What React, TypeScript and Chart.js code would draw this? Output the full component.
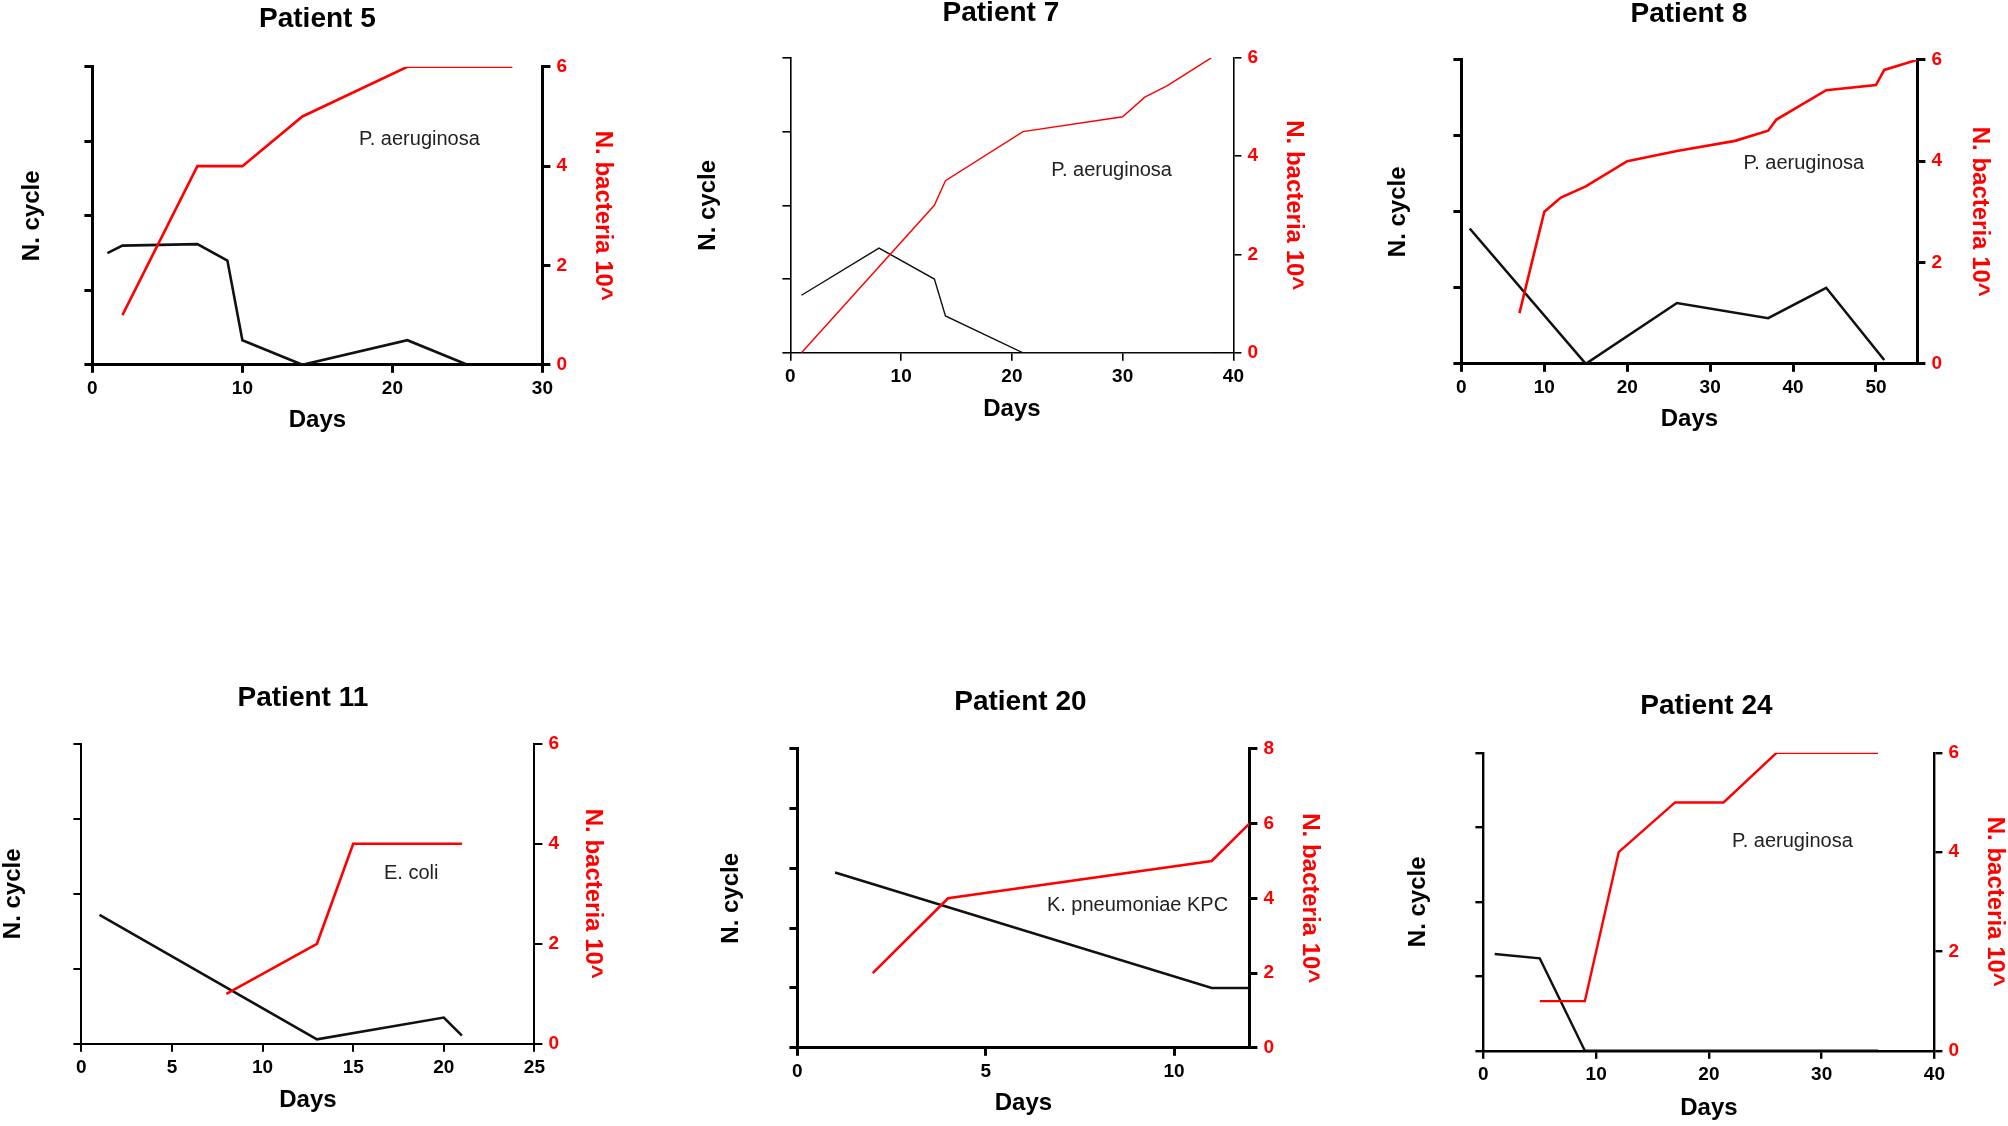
import React, { useRef, useEffect } from 'react';
import { Chart, registerables } from 'chart.js';

Chart.register(...registerables);

const FONT = '"Liberation Sans", Arial, sans-serif';
const RED = '#ff0000';
const INK = '#111111';
const TITLE_SIZE = 28;
const AXIS_TITLE_SIZE = 24;
const TICK_SIZE = 19;

// Patient 5
const p5CycleDays = [1, 2, 7, 9, 10, 14, 21, 25];
const p5Cycles = [1.5, 1.6, 1.62, 1.4, 0.33, 0, 0.33, 0];
const p5BactDays = [2, 7, 10, 14, 21, 28];
const p5Bact = [1, 4, 4, 5, 6, 6];

// Patient 7
const p7CycleDays = [1, 8, 13, 14, 21, 38];
const p7Cycles = [0.78, 1.42, 1.0, 0.5, 0, 0];
const p7BactDays = [1, 13, 14, 21, 30, 32, 34, 38];
const p7Bact = [0, 3, 3.5, 4.5, 4.8, 5.2, 5.43, 6];

// Patient 8
const p8CycleDays = [1, 15, 26, 37, 44, 51];
const p8Cycles = [1.78, 0, 0.8, 0.6, 1.0, 0.05];
const p8BactDays = [7, 10, 12, 15, 20, 26, 33, 37, 38, 44, 50, 51, 55];
const p8Bact = [1, 3, 3.28, 3.5, 4, 4.2, 4.4, 4.6, 4.82, 5.4, 5.5, 5.8, 6];

// Patient 11
const p11CycleDays = [1, 13, 20, 21];
const p11Cycles = [1.72, 0.06, 0.35, 0.11];
const p11BactDays = [8, 13, 15, 21];
const p11Bact = [1, 2, 4, 4];

// Patient 20
const p20CycleDays = [1, 11, 12];
const p20Cycles = [2.93, 1, 1];
const p20BactDays = [2, 4, 11, 12];
const p20Bact = [2, 4, 5, 6];

// Patient 24
const p24CycleDays = [1, 5, 9, 35];
const p24Cycles = [1.3, 1.24, 0, 0];
const p24BactDays = [5, 9, 12, 17, 21.3, 26, 35];
const p24Bact = [1, 1, 4, 5, 5, 6, 6];

interface Geometry {
    L: number; R: number; T: number; B: number;
    titleY: number; daysY: number; ncX: number; bactX: number;
}

interface PanelProps {
    title: string;
    organism: string;
    orgX: number;
    orgY: number;
    cycleDays: number[];
    cycles: number[];
    bactDays: number[];
    bact: number[];
    xMax: number;
    xStep: number;
    cycleMax: number;
    bactMax: number;
    g: Geometry;
    lineW: number;
    axisW: number;
}

const Panel: React.FC<PanelProps> = (p) => {
    const canvasRef = useRef<HTMLCanvasElement>(null);
    const chartRef = useRef<Chart | null>(null);

    const halfAxis = (AXIS_TITLE_SIZE * 1.2) / 2;
    const cl = p.g.ncX - halfAxis;
    const cr = p.g.bactX + halfAxis;
    const ct = p.g.titleY - (TITLE_SIZE * 1.2) / 2;
    const cb = p.g.daysY + halfAxis;

    useEffect(() => {
        if (!canvasRef.current) return;
        if (chartRef.current) chartRef.current.destroy();

        const organismLabel = {
            id: 'organismLabel',
            afterDatasetsDraw(chart: Chart) {
                const { ctx, scales } = chart;
                ctx.save();
                ctx.font = `20px ${FONT}`;
                ctx.fillStyle = '#222';
                ctx.textAlign = 'center';
                ctx.textBaseline = 'middle';
                ctx.fillText(p.organism, scales.x.getPixelForValue(p.orgX), scales.y1.getPixelForValue(p.orgY));
                ctx.restore();
            },
        };

        const axisGrid = { drawOnChartArea: false, tickLength: 8, color: '#000', lineWidth: p.axisW };
        const axisBorder = { color: '#000', width: p.axisW };
        const tickFont = { family: FONT, size: TICK_SIZE, weight: 'bold' as const };
        const axisTitleFont = { family: FONT, size: AXIS_TITLE_SIZE, weight: 'bold' as const, lineHeight: 1.2 };

        chartRef.current = new Chart(canvasRef.current, {
            type: 'line',
            data: {
                datasets: [
                    {
                        label: 'N. bacteria',
                        data: p.bactDays.map((d, i) => ({ x: d, y: p.bact[i] })),
                        yAxisID: 'y1',
                        borderColor: RED,
                        borderWidth: p.lineW,
                        pointRadius: 0,
                        tension: 0,
                    },
                    {
                        label: 'N. cycle',
                        data: p.cycleDays.map((d, i) => ({ x: d, y: p.cycles[i] })),
                        yAxisID: 'y',
                        borderColor: INK,
                        borderWidth: p.lineW,
                        pointRadius: 0,
                        tension: 0,
                    },
                ],
            },
            options: {
                animation: false,
                responsive: true,
                maintainAspectRatio: false,
                layout: { padding: 0 },
                plugins: {
                    legend: { display: false },
                    tooltip: { enabled: false },
                    title: {
                        display: true,
                        text: p.title,
                        color: '#000',
                        font: { family: FONT, size: TITLE_SIZE, weight: 'bold', lineHeight: 1.2 },
                        padding: { top: 0, bottom: p.g.T - ct - TITLE_SIZE * 1.2 },
                    },
                },
                scales: {
                    x: {
                        type: 'linear',
                        position: 'bottom',
                        min: 0,
                        max: p.xMax,
                        afterBuildTicks: (s: any) => {
                            s.ticks = s.ticks.filter((t: any) => t.value % p.xStep === 0);
                        },
                        afterFit: (s: any) => { s.height = cb - p.g.B; },
                        ticks: {
                            stepSize: p.xStep,
                            color: '#000',
                            font: tickFont,
                            padding: 5,
                            maxRotation: 0,
                            autoSkip: false,
                        },
                        grid: axisGrid,
                        border: axisBorder,
                        title: { display: true, text: 'Days', color: '#000', font: axisTitleFont, padding: 0 },
                    },
                    y: {
                        position: 'left',
                        min: 0,
                        max: p.cycleMax,
                        afterFit: (s: any) => { s.width = p.g.L - cl; },
                        ticks: { stepSize: 1, callback: () => '' },
                        grid: axisGrid,
                        border: axisBorder,
                        title: { display: true, text: 'N. cycle', color: '#000', font: axisTitleFont, padding: 0 },
                    },
                    y1: {
                        position: 'right',
                        min: 0,
                        max: p.bactMax,
                        afterFit: (s: any) => { s.width = cr - p.g.R; },
                        ticks: { stepSize: 2, color: RED, font: tickFont, padding: 6 },
                        grid: axisGrid,
                        border: axisBorder,
                        title: { display: true, text: 'N. bacteria 10^', color: RED, font: axisTitleFont, padding: 0 },
                    },
                },
            },
            plugins: [organismLabel],
        });

        return () => {
            if (chartRef.current) chartRef.current.destroy();
            chartRef.current = null;
        };
    }, []);

    return (
        <div style={{ position: 'absolute', left: cl, top: ct, width: cr - cl, height: cb - ct }}>
            <canvas ref={canvasRef}></canvas>
        </div>
    );
};

const App: React.FC = () => {
    return (
        <div style={{ position: 'absolute', left: 0, top: 0, width: 2008, height: 1126, background: '#fff', overflow: 'hidden' }}>
            <Panel title="Patient 5" organism="P. aeruginosa" orgX={21.8} orgY={4.53}
                cycleDays={p5CycleDays} cycles={p5Cycles} bactDays={p5BactDays} bact={p5Bact}
                xMax={30} xStep={10} cycleMax={4} bactMax={6} lineW={2.6} axisW={3}
                g={{ L: 92, R: 542, T: 67, B: 365, titleY: 19, daysY: 421, ncX: 32, bactX: 602 }} />
            <Panel title="Patient 7" organism="P. aeruginosa" orgX={29} orgY={3.71}
                cycleDays={p7CycleDays} cycles={p7Cycles} bactDays={p7BactDays} bact={p7Bact}
                xMax={40} xStep={10} cycleMax={4} bactMax={6} lineW={1.4} axisW={1.6}
                g={{ L: 790, R: 1233, T: 58, B: 353, titleY: 13, daysY: 410, ncX: 708, bactX: 1293 }} />
            <Panel title="Patient 8" organism="P. aeruginosa" orgX={41.3} orgY={3.96}
                cycleDays={p8CycleDays} cycles={p8Cycles} bactDays={p8BactDays} bact={p8Bact}
                xMax={55} xStep={10} cycleMax={4} bactMax={6} lineW={2.6} axisW={3}
                g={{ L: 1461, R: 1917, T: 60, B: 364, titleY: 14, daysY: 420, ncX: 1398, bactX: 1979 }} />
            <Panel title="Patient 11" organism="E. coli" orgX={18.2} orgY={3.41}
                cycleDays={p11CycleDays} cycles={p11Cycles} bactDays={p11BactDays} bact={p11Bact}
                xMax={25} xStep={5} cycleMax={4} bactMax={6} lineW={2.6} axisW={2}
                g={{ L: 81, R: 534, T: 744, B: 1044, titleY: 698, daysY: 1101, ncX: 13, bactX: 592 }} />
            <Panel title="Patient 20" organism="K. pneumoniae KPC" orgX={9.03} orgY={3.8}
                cycleDays={p20CycleDays} cycles={p20Cycles} bactDays={p20BactDays} bact={p20Bact}
                xMax={12} xStep={5} cycleMax={5} bactMax={8} lineW={2.6} axisW={3}
                g={{ L: 797, R: 1249, T: 749, B: 1048, titleY: 702, daysY: 1104, ncX: 731, bactX: 1309 }} />
            <Panel title="Patient 24" organism="P. aeruginosa" orgX={27.4} orgY={4.21}
                cycleDays={p24CycleDays} cycles={p24Cycles} bactDays={p24BactDays} bact={p24Bact}
                xMax={40} xStep={10} cycleMax={4} bactMax={6} lineW={2.4} axisW={2.4}
                g={{ L: 1483, R: 1934, T: 753, B: 1051, titleY: 706, daysY: 1109, ncX: 1418, bactX: 1994 }} />
        </div>
    );
};

export default App;
